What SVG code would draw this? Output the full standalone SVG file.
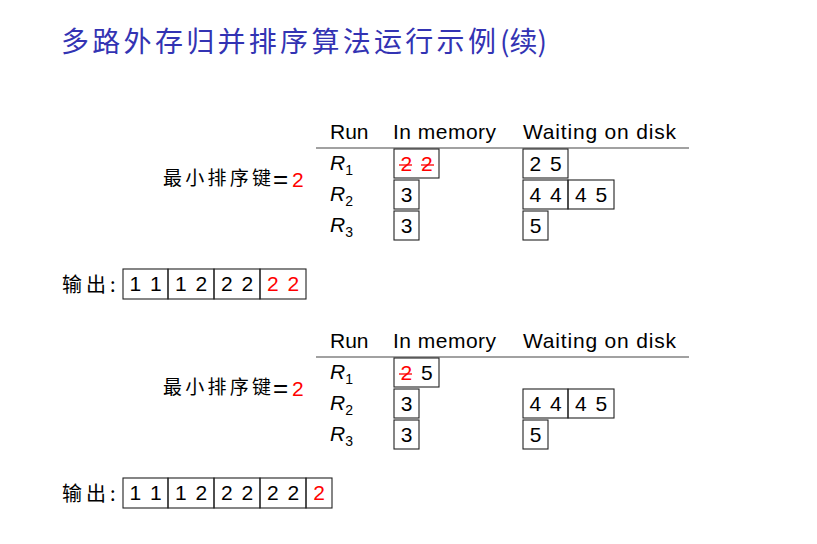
<svg xmlns="http://www.w3.org/2000/svg" width="817" height="544" viewBox="0 0 817 544">
<style>
.t{font-family:"Liberation Sans","DejaVu Sans",sans-serif;font-size:21px;fill:#000}
.c{font-family:"Liberation Sans","DejaVu Sans",sans-serif;font-size:21px;fill:#000;text-anchor:middle;word-spacing:3px}
.r{fill:#f00}
.cjk{font-family:"Noto Sans CJK SC",sans-serif;font-size:19px;fill:#000}
.eq{font-family:"Liberation Sans","DejaVu Sans",sans-serif;font-size:26px;fill:#000}
.box{fill:none;stroke:#222;stroke-width:1.1}
.rule{stroke:#444;stroke-width:1.2}
.strike{stroke:#f00;stroke-width:1.3}
.ri{font-family:"Liberation Sans","DejaVu Sans",sans-serif;font-style:italic;font-size:21px}
.sub{font-family:"Liberation Sans","DejaVu Sans",sans-serif;font-size:14px}
.out{font-family:"Noto Sans CJK SC",sans-serif;font-size:20px;fill:#000;letter-spacing:4px}
</style>
<rect width="817" height="544" fill="#fff"/>
<g id="title">
<text x="61" y="52" font-family="'Noto Sans CJK SC',sans-serif" font-size="28" fill="#3333b3" letter-spacing="3.3">多路外存归并排序算法运行示例</text>
<text x="500" y="52" font-family="'Noto Sans CJK SC',sans-serif" font-size="28" fill="#3333b3">(续)</text>
</g>

<g id="table1">
<g id="t1-header">
<text class="t" x="330" y="139">Run</text>
<text class="t" x="393" y="139" textLength="103">In memory</text>
<text class="t" x="523" y="139" textLength="153">Waiting on disk</text>
<line class="rule" x1="316" y1="148" x2="689" y2="148"/>
</g>
<g id="t1-key">
<text class="cjk" x="163" y="185" textLength="108">最小排序键</text>
<text class="eq" x="273" y="188">=</text>
<text class="t r" x="292" y="187">2</text>
</g>
<g id="t1-r1">
<text class="ri" x="330" y="170">R<tspan class="sub" font-style="normal" dy="5">1</tspan></text>
<rect class="box" x="394" y="149" width="45" height="29"/>
<text class="c r" x="416.5" y="171">2 2</text>
<line class="strike" x1="399" y1="165" x2="412" y2="165"/>
<line class="strike" x1="421" y1="165" x2="434" y2="165"/>
<rect class="box" x="523" y="149" width="45" height="29"/>
<text class="c" x="545.5" y="171">2 5</text>
</g>
<g id="t1-r2">
<text class="ri" x="330" y="201">R<tspan class="sub" font-style="normal" dy="5">2</tspan></text>
<rect class="box" x="394" y="180" width="25" height="29"/>
<text class="c" x="406.5" y="202">3</text>
<rect class="box" x="523" y="180" width="45" height="29"/>
<text class="c" x="545.5" y="202">4 4</text>
<rect class="box" x="568" y="180" width="46" height="29"/>
<text class="c" x="591" y="202">4 5</text>
</g>
<g id="t1-r3">
<text class="ri" x="330" y="232">R<tspan class="sub" font-style="normal" dy="5">3</tspan></text>
<rect class="box" x="394" y="211" width="25" height="29"/>
<text class="c" x="406.5" y="233">3</text>
<rect class="box" x="523" y="211" width="25" height="29"/>
<text class="c" x="535.5" y="233">5</text>
</g>
</g>

<g id="output1">
<text class="out" x="62" y="292">输出:</text>
<rect class="box" x="123" y="269" width="45" height="30"/>
<text class="c" x="145.5" y="291">1 1</text>
<rect class="box" x="168" y="269" width="46" height="30"/>
<text class="c" x="191" y="291">1 2</text>
<rect class="box" x="214" y="269" width="46" height="30"/>
<text class="c" x="237" y="291">2 2</text>
<rect class="box" x="260" y="269" width="46" height="30"/>
<text class="c r" x="283" y="291">2 2</text>
</g>

<g id="table2">
<g id="t2-header">
<text class="t" x="330" y="348">Run</text>
<text class="t" x="393" y="348" textLength="103">In memory</text>
<text class="t" x="523" y="348" textLength="153">Waiting on disk</text>
<line class="rule" x1="316" y1="357" x2="689" y2="357"/>
</g>
<g id="t2-key">
<text class="cjk" x="163" y="394" textLength="108">最小排序键</text>
<text class="eq" x="273" y="397">=</text>
<text class="t r" x="292" y="396">2</text>
</g>
<g id="t2-r1">
<text class="ri" x="330" y="379">R<tspan class="sub" font-style="normal" dy="5">1</tspan></text>
<rect class="box" x="394" y="358" width="45" height="29"/>
<text class="c" x="416.5" y="380"><tspan class="r">2</tspan> 5</text>
<line class="strike" x1="399" y1="374" x2="412" y2="374"/>
</g>
<g id="t2-r2">
<text class="ri" x="330" y="410">R<tspan class="sub" font-style="normal" dy="5">2</tspan></text>
<rect class="box" x="394" y="389" width="25" height="29"/>
<text class="c" x="406.5" y="411">3</text>
<rect class="box" x="523" y="389" width="45" height="29"/>
<text class="c" x="545.5" y="411">4 4</text>
<rect class="box" x="568" y="389" width="46" height="29"/>
<text class="c" x="591" y="411">4 5</text>
</g>
<g id="t2-r3">
<text class="ri" x="330" y="441">R<tspan class="sub" font-style="normal" dy="5">3</tspan></text>
<rect class="box" x="394" y="420" width="25" height="29"/>
<text class="c" x="406.5" y="442">3</text>
<rect class="box" x="523" y="420" width="25" height="29"/>
<text class="c" x="535.5" y="442">5</text>
</g>
</g>

<g id="output2">
<text class="out" x="62" y="501">输出:</text>
<rect class="box" x="123" y="478" width="45" height="30"/>
<text class="c" x="145.5" y="500">1 1</text>
<rect class="box" x="168" y="478" width="46" height="30"/>
<text class="c" x="191" y="500">1 2</text>
<rect class="box" x="214" y="478" width="46" height="30"/>
<text class="c" x="237" y="500">2 2</text>
<rect class="box" x="260" y="478" width="46" height="30"/>
<text class="c" x="283" y="500">2 2</text>
<rect class="box" x="306" y="478" width="26" height="30"/>
<text class="c r" x="319" y="500">2</text>
</g>
</svg>
